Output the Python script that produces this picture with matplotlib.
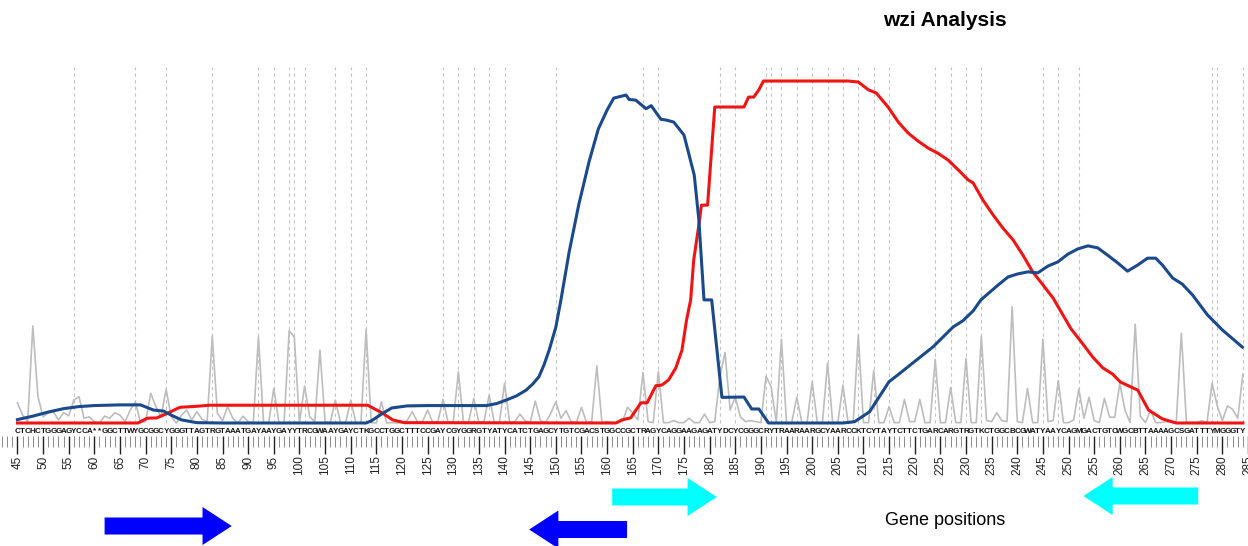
import numpy as np
import matplotlib
matplotlib.use("Agg")
import matplotlib.pyplot as plt
from matplotlib.patches import FancyArrow
from matplotlib.ticker import MultipleLocator

plt.rcParams['font.family'] = ['Liberation Sans', 'DejaVu Sans']

# sequence from position 45 to 284
seq_start = 45
sequence = ("CTCHCTGGGAGYCCA**GGCTTWYGCGGCYGGGTTAGTRGTAAATGAYAAYGAYYTRCGW"
            "AAYGAYCTKGCCTGGCTTTCCGAYCGYGGRGTYATYCATCTGAGCYTGTCGACSTGGCCG"
            "CTRAGYCAGGAAGAGATYDCYCGGGCRYTRAARAARGCYAARCCKTCYTAYTCTTCTGAR"
            "CARGTRGTKCTGGCBCGWATYAAYCAGMGACTGTCWGCBTTAAAAGCSGATTTYMGGGTY")

# grey per-position score (one value per base)
grey_vals = [
    5.9, 2.3, 0.4, 28.4, 7.7, 1.8, 2.9, 3.3, 0.9, 3.0,
    2.1, 6.7, 7.7, 1.4, 1.8, 0.4, 0.0, 2.0, 1.4, 3.0,
    2.3, 0.4, 3.8, 6.2, 0.1, 0.4, 8.7, 4.8, 1.8, 9.9,
    1.8, 0.0, 2.3, 3.8, 0.9, 3.3, 1.1, 0.4, 25.4, 2.8,
    0.7, 4.8, 1.4, 0.0, 2.0, 0.4, 0.0, 25.2, 0.1, 0.0,
    10.1, 0.1, 0.0, 27.0, 25.1, 0.1, 10.8, 1.8, 0.4, 21.3,
    0.4, 0.0, 6.7, 0.1, 0.0, 6.7, 0.1, 0.0, 27.4, 0.1,
    0.0, 6.2, 0.0, 0.1, 0.0, 0.1, 0.7, 3.3, 0.4, 0.4,
    3.8, 0.1, 0.4, 6.9, 0.1, 0.4, 15.0, 0.1, 0.4, 7.2,
    0.1, 0.4, 8.2, 0.1, 0.1, 11.6, 0.1, 0.4, 2.6, 0.7,
    0.1, 6.4, 0.7, 0.1, 2.8, 6.2, 1.4, 3.6, 0.4, 0.1,
    4.6, 0.1, 0.4, 16.7, 0.1, 0.4, 0.1, 0.0, 0.4, 4.6,
    2.9, 0.9, 14.7, 0.4, 0.1, 15.0, 0.1, 0.1, 0.7, 0.1,
    0.1, 1.4, 0.1, 0.1, 2.6, 0.1, 0.4, 13.5, 20.6, 3.8,
    7.5, 1.8, 0.4, 0.7, 0.4, 0.1, 13.7, 10.6, 0.1, 24.5,
    0.1, 0.1, 7.5, 0.1, 0.1, 12.1, 0.1, 0.1, 17.5, 0.1,
    0.1, 11.1, 0.1, 0.1, 25.7, 0.1, 0.1, 15.3, 0.1, 0.1,
    4.8, 0.1, 0.1, 6.9, 0.4, 0.4, 6.9, 0.1, 0.1, 18.6,
    0.1, 0.1, 10.4, 0.1, 0.1, 18.9, 0.1, 0.1, 25.4, 0.7,
    0.4, 3.0, 0.7, 0.4, 34.0, 0.4, 0.1, 10.1, 0.1, 0.1,
    24.5, 0.4, 0.7, 12.4, 0.1, 0.1, 0.9, 9.9, 1.4, 7.5,
    0.7, 0.1, 7.2, 1.7, 1.7, 11.6, 3.8, 0.1, 28.9, 2.0,
    0.1, 3.8, 0.1, 0.1, 0.4, 0.1, 0.1, 26.2, 0.1, 0.1,
    0.1, 0.7, 0.1, 11.6, 5.0, 0.7, 5.0, 4.0, 1.4, 14.3,
]

# blue curve
blue_pos = [45, 48, 51, 54, 57, 60, 65, 69, 70, 71.5, 73.5, 75, 77, 80, 85,
            113, 114, 116, 118, 121, 125, 136.5, 138.5, 140.3, 142.3, 144.2,
            145.5, 146.7, 147.7, 148.7, 150, 151, 152.6, 154.5, 156.5, 158.3,
            160, 161.3, 163.7,
            164.3, 165.6, 167.6, 168.6, 170.5, 171.5, 173, 175, 177, 177.9,
            178.9, 180.4, 182.4, 186.7, 188.2, 189.6, 191.5, 206, 208.3, 211.2,
            215, 216.4, 223.6, 227.5, 229.4, 231.4, 232.9, 236.3, 238.2, 240.1,
            242.1, 244, 246, 247.9, 249.9, 251.8, 253.8, 255.7, 257.6, 259.6,
            261.5, 263.5, 265.4, 267, 268.3, 270.3, 272.2, 274.2, 277.1, 280,
            283.9]
blue_vals = [1.0, 2.0, 3.2, 4.2, 4.8, 5.1, 5.3, 5.3, 4.7, 3.8, 3.5, 2.3, 0.9, 0.1, 0.0,
             0.0, 0.6, 2.6, 4.4, 5.0, 5.1, 5.1, 5.7, 6.7, 7.9, 9.6,
             11.4, 13.5, 17.0, 21.3, 28.0, 36.0, 50.0, 64.0, 76.5, 86.0,
             91.5, 95.0, 95.9,
             94.6, 94.4, 91.9, 92.8, 88.8, 88.6, 88.0, 84.2, 72.5, 59.4,
             36.0, 36.0, 7.5, 7.6, 4.1, 4.1, 0.0, 0.0, 0.4, 3.3,
             12.1, 13.7, 22.3, 28.1, 29.9, 32.8, 36.0, 40.4, 42.7, 43.6,
             44.2, 43.9, 45.9, 47.1, 49.4, 50.9, 51.8, 51.2, 49.1, 46.8,
             44.4, 46.2, 48.2, 48.2, 46.2, 42.4, 40.6, 37.4, 31.6, 27.2,
             22.2]

# red curve
red_pos = [45, 68.5, 70.3, 72.2, 74.2, 76.7, 79.2, 82.5, 113.3, 116.2, 118.2, 120.5,
           161.7, 162.9, 164.6, 166.6, 167.8, 169.5, 170.7, 172, 173.4, 174.6, 175.5,
           176.3, 176.9, 177.9, 178.4, 179.6, 181, 186.7, 187.6, 188.6, 189.6, 190.5,
           207, 209, 211, 212.5, 214.8, 216.8, 218.7, 220.6, 222.6, 224.5, 226.5,
           228.5, 230.4, 231.4, 233.3, 235.3, 237.2, 239.2, 241.1, 243, 245, 247,
           248.9, 250.5, 252.8, 254.7, 256.7, 258.6, 260.1, 263.5, 265.6, 268.3,
           271, 284]
red_vals = [0.0, 0.0, 1.4, 1.5, 2.8, 4.6, 4.8, 5.2, 5.2, 2.9, 0.9, 0.1,
            0.0, 0.9, 1.5, 5.9, 5.9, 10.9, 11.1, 12.6, 16.1, 21.3, 30.1,
            36.0, 47.7, 57.9, 63.7, 63.7, 92.4, 92.4, 95.3, 95.3, 97.4, 100.0,
            100.0, 99.7, 97.4, 96.5, 92.4, 88.0, 84.8, 82.5, 80.4, 78.9, 76.9,
            74.0, 71.1, 70.2, 65.2, 60.8, 57.0, 53.5, 49.1, 44.2, 40.4, 36.5,
            31.6, 27.5, 23.1, 19.3, 16.1, 14.3, 12.0, 9.6, 3.8, 1.2,
            0.0, 0.0]

# genes: start, end, colour, track
gene_start = [62.0, 163.9, 161.0, 275.3]
gene_end = [86.8, 144.8, 181.4, 252.9]
gene_color = ['#0000ff', '#0000ff', '#00ffff', '#00ffff']
gene_track = [0.263, 0.217, 0.645, 0.658]

W, H = 1248, 546
fig = plt.figure(figsize=(W / 100, H / 100), dpi=100)

xmin, xmax = 41.6, 285.0
ax = fig.add_axes([0, (H - 436) / H, 1, (436 - 67) / H])
ax.set_xlim(xmin, xmax)
ax.set_ylim(-3.8, 104.1)

positions = np.arange(seq_start, seq_start + len(sequence))
sites = [p for p, c in zip(positions, sequence) if c in "YRKM"]
ax.vlines(sites, 0, 104.1, colors='#c4c4c4', linestyles=(0, (3, 3)), linewidth=0.8, zorder=1)

ax.plot(positions, grey_vals, color='#bdbdbd', lw=1.2, zorder=2)
ax.plot(blue_pos, blue_vals, color='#1a4a8c', lw=2.2, zorder=4)
ax.plot(red_pos, red_vals, color='#f01414', lw=2.2, zorder=3)

for p, c in zip(positions, sequence):
    ax.text(p, -2.35, c, ha='center', va='center', fontsize=5.8, fontweight='bold',
            family=['Liberation Sans Narrow', 'Liberation Sans', 'DejaVu Sans'], color='#111111')

for s in ax.spines.values():
    s.set_visible(False)
ax.yaxis.set_visible(False)
ax.xaxis.set_major_locator(MultipleLocator(5))
ax.xaxis.set_minor_locator(MultipleLocator(1))
ax.tick_params(axis='x', which='major', direction='out', length=13, width=1.0,
               color='#222222', labelsize=8.5, labelrotation=90, pad=1, labelcolor='#222222')
ax.tick_params(axis='x', which='minor', direction='out', length=8, width=0.6, color='#777777')

# gene track
gax = fig.add_axes([0, 0, 1, 76 / H])
gax.set_xlim(xmin, xmax)
gax.set_ylim(0, 1)
gax.axis('off')
for s0, e0, col, tr in zip(gene_start, gene_end, gene_color, gene_track):
    gax.add_patch(FancyArrow(s0, tr, e0 - s0, 0, width=0.224, head_width=0.5,
                             head_length=5.7, length_includes_head=True,
                             color=col, lw=0))
gax.text(0.757, 0.34, "Gene positions", transform=gax.transAxes, ha='center', va='center',
         fontsize=13, family=['Liberation Sans Narrow', 'Liberation Sans', 'DejaVu Sans'])

fig.text(945 / W, 1 - 20 / H, "wzi Analysis", ha='center', va='center',
         fontsize=15, fontweight='bold')

fig.savefig("out.png", dpi=100)
